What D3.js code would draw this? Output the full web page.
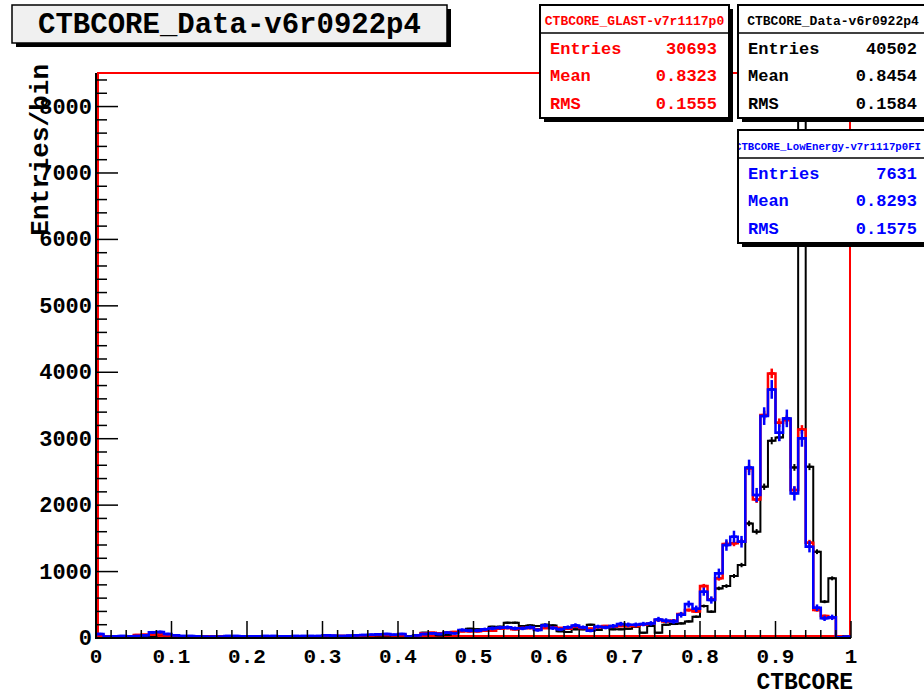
<!DOCTYPE html>
<html><head><meta charset="utf-8">
<script src="https://cdn.jsdelivr.net/npm/d3@7"></script>
<style>
body{margin:0;background:#fff;}
svg{display:block;}
text{font-family:"Liberation Mono","Courier New",monospace;font-weight:bold;}
</style>
</head><body>
<svg id="c" width="924" height="695"></svg>
<script>
// ---------------- data ----------------
const binEdges = [0, 1];          // x range, 100 bins of 0.01
const nBins = 100;
const blackVals = [
  40,15,20,20,25,20,20,30,45,40, 35,25,20,20,20,20,20,20,20,20,
  20,20,20,20,20,20,20,20,20,20, 20,20,25,25,25,25,30,30,35,30,
  30,30,30,80,70,40,50,90,110,140, 130,130,170,170,230,230,180,190,180,200,
  190,100,90,130,130,200,120,160,130,130, 140,170,80,180,80,200,210,220,250,320,
  481,396,747,782,933,1098,1725,1600,2277,2970, 3020,3306,2568,8100,2578,1299,547,898,10,30
];
const redVals = [
  30,10,15,20,20,45,50,50,55,40, 30,20,20,20,15,15,20,20,20,20,
  20,20,25,20,20,20,20,25,25,25, 30,30,30,30,35,40,40,45,45,40,
  40,10,30,70,80,70,80,90,100,100, 100,110,110,140,150,130,150,150,130,150,
  160,150,140,170,150,140,160,180,170,180, 180,180,200,220,270,250,260,360,420,400,
  782,582,898,1415,1425,1449,2553,2086,3355,3983, 3240,3280,2227,3140,1434,421,331,311,10,20
];
const blueVals = [
  60,20,25,30,25,30,40,85,90,60, 40,30,30,25,20,20,20,30,30,25,
  25,25,30,30,25,25,30,30,30,30, 40,35,30,35,40,45,50,55,60,50,
  60,20,40,60,70,60,80,70,120,110, 110,130,145,155,160,145,145,160,120,190,
  150,130,160,190,160,110,170,160,180,210, 200,200,210,220,280,260,250,350,510,440,
  697,572,973,1399,1525,1449,2568,2152,3340,3742, 3090,3306,2177,3005,1374,456,296,311,10,20
];
const xTickValues = [0,0.1,0.2,0.3,0.4,0.5,0.6,0.7,0.8,0.9,1];
const xTickLabels = ["0","0.1","0.2","0.3","0.4","0.5","0.6","0.7","0.8","0.9","1"];
const yTickValues = [0,1000,2000,3000,4000,5000,6000,7000,8000];
const yTickLabels = ["0","1000","2000","3000","4000","5000","6000","7000","8000"];
const yMax = 8505;

const statNames   = ["CTBCORE_GLAST-v7r1117p0","CTBCORE_Data-v6r0922p4","CTBCORE_LowEnergy-v7r1117p0FI"];
const statEntries = ["30693","40502","7631"];
const statMeans   = ["0.8323","0.8454","0.8293"];
const statRMS     = ["0.1555","0.1584","0.1575"];
const statColors  = ["#ff0000","#000000","#0000ff"];
const entriesNum  = [30693, 40502, 7631];

const titleText = "CTBCORE_Data-v6r0922p4";
const xTitle = "CTBCORE";
const yTitle = "Entries/bin";

// ---------------- layout ----------------
const svg = d3.select("#c");
const X0 = 96, X1 = 851, Y0 = 638, Y1 = 73;
const x = d3.scaleLinear().domain(binEdges).range([X0, X1]);
const y = d3.scaleLinear().domain([0, yMax]).range([Y0, Y1]);
const bw = (binEdges[1]-binEdges[0]) / nBins;

svg.append("defs").append("clipPath").attr("id","fr")
  .append("rect").attr("x",X0).attr("y",Y1).attr("width",X1-X0).attr("height",Y0-Y1);

// frame
svg.append("rect").attr("x",X0+2).attr("y",Y1).attr("width",X1-X0-3).attr("height",Y0-Y1-2)
  .attr("fill","none").attr("stroke","#ff0000").attr("stroke-width",2);

function drawHist(vals, color, width, scale){
  const pts = [[x(0), y(0)]];
  vals.forEach((v,i)=>{ pts.push([x(i*bw), y(v)]); pts.push([x((i+1)*bw), y(v)]); });
  pts.push([x(1), y(0)]);
  const g = svg.append("g").attr("clip-path","url(#fr)");
  g.append("path").attr("d", d3.line()(pts)).attr("fill","none")
    .attr("stroke",color).attr("stroke-width",width).attr("stroke-linejoin","miter");
  vals.forEach((v,i)=>{
    if (v <= 0) return;
    const e = Math.sqrt(v*scale);
    const cx = x((i+0.5)*bw);
    g.append("line").attr("x1",cx).attr("x2",cx).attr("y1",y(v-e)).attr("y2",y(v+e))
      .attr("stroke",color).attr("stroke-width",width);
    g.append("line").attr("x1",cx-3).attr("x2",cx+3).attr("y1",y(v)).attr("y2",y(v))
      .attr("stroke",color).attr("stroke-width",width);
  });
}
drawHist(blackVals, "#000000", 2, 1);
drawHist(redVals, "#ff0000", 2.5, entriesNum[1]/entriesNum[0]);
drawHist(blueVals, "#0000ff", 2.5, entriesNum[1]/entriesNum[2]);

// axes
svg.append("line").attr("x1",X0).attr("x2",X0).attr("y1",Y1).attr("y2",Y0+1).attr("stroke","#000").attr("stroke-width",2);
svg.append("line").attr("x1",X0-1).attr("x2",X1).attr("y1",Y0).attr("y2",Y0).attr("stroke","#000").attr("stroke-width",2);

// y ticks
const yMinor = d3.range(0, yMax, 200);
yMinor.forEach(v=>{
  const major = v % 1000 === 0;
  svg.append("line").attr("x1",X0).attr("x2",X0 + (major?22:11)).attr("y1",y(v)).attr("y2",y(v))
    .attr("stroke","#000").attr("stroke-width",1.5);
});
yTickValues.forEach((v,i)=>{
  svg.append("text").attr("x",X0-4).attr("y",y(v)+7).attr("text-anchor","end")
    .attr("font-size",22).text(yTickLabels[i]);
});
// x ticks
d3.range(0, 51).forEach(k=>{
  const v = k*0.02;
  const major = k % 5 === 0;
  svg.append("line").attr("x1",x(v)).attr("x2",x(v)).attr("y1",Y0).attr("y2",Y0 - (major?17:8))
    .attr("stroke","#000").attr("stroke-width",1.5);
});
xTickValues.forEach((v,i)=>{
  svg.append("text").attr("x",x(v)).attr("y",663).attr("text-anchor","middle")
    .attr("font-size",21).text(xTickLabels[i]);
});

// axis titles
svg.append("text").attr("x",X1+2).attr("y",689).attr("text-anchor","end")
  .attr("font-size",23).text(xTitle);
svg.append("text").attr("transform","translate(48,64) rotate(-90)").attr("text-anchor","end")
  .attr("font-size",26).text(yTitle);

// stat boxes
const boxes = [
  {x:540, y:5, w:189, h:113, lx:550, rx:717, hx:634.5, hfs:13, by:[54,81,109]},
  {x:738, y:5, w:200, h:113, lx:748, rx:917, hx:833, hfs:13, by:[54,81,109]},
  {x:738, y:130, w:200, h:113, lx:748, rx:917, hx:735, hfs:10.7, by:[179,206,234]}
];
boxes.forEach((b,i)=>{
  const g = svg.append("g");
  g.append("rect").attr("x",b.x+4).attr("y",b.y+4).attr("width",b.w).attr("height",b.h).attr("fill","#000");
  g.append("rect").attr("x",b.x).attr("y",b.y).attr("width",b.w).attr("height",b.h)
    .attr("fill","#fff").attr("stroke","#000").attr("stroke-width",2);
  g.append("line").attr("x1",b.x).attr("x2",b.x+b.w).attr("y1",b.y+28).attr("y2",b.y+28)
    .attr("stroke","#000").attr("stroke-width",1.5);
  const cid = "sb"+i;
  svg.select("defs").append("clipPath").attr("id",cid).append("rect")
    .attr("x",b.x+1).attr("y",b.y).attr("width",b.w-2).attr("height",28);
  g.append("text").attr("clip-path","url(#"+cid+")").attr("x",b.hx).attr("y",b.y+20)
    .attr("text-anchor", i===2 ? "start" : "middle").attr("font-size",b.hfs)
    .attr("fill",statColors[i]).text(statNames[i]);
  const labs = ["Entries","Mean","RMS"], vals=[statEntries[i],statMeans[i],statRMS[i]];
  labs.forEach((l,j)=>{
    g.append("text").attr("x",b.lx).attr("y",b.by[j]).attr("font-size",17).attr("fill",statColors[i]).text(l);
    g.append("text").attr("x",b.rx).attr("y",b.by[j]).attr("text-anchor","end").attr("font-size",17)
      .attr("fill",statColors[i]).text(vals[j]);
  });
});

// title box
svg.append("rect").attr("x",16).attr("y",9).attr("width",435).attr("height",38).attr("fill","#000");
svg.append("rect").attr("x",12).attr("y",5).attr("width",435).attr("height",38)
  .attr("fill","#f0f0f0").attr("stroke","#000").attr("stroke-width",1.5);
svg.append("text").attr("x",229.5).attr("y",33).attr("text-anchor","middle").attr("font-size",29).text(titleText);
</script>
</body></html>
